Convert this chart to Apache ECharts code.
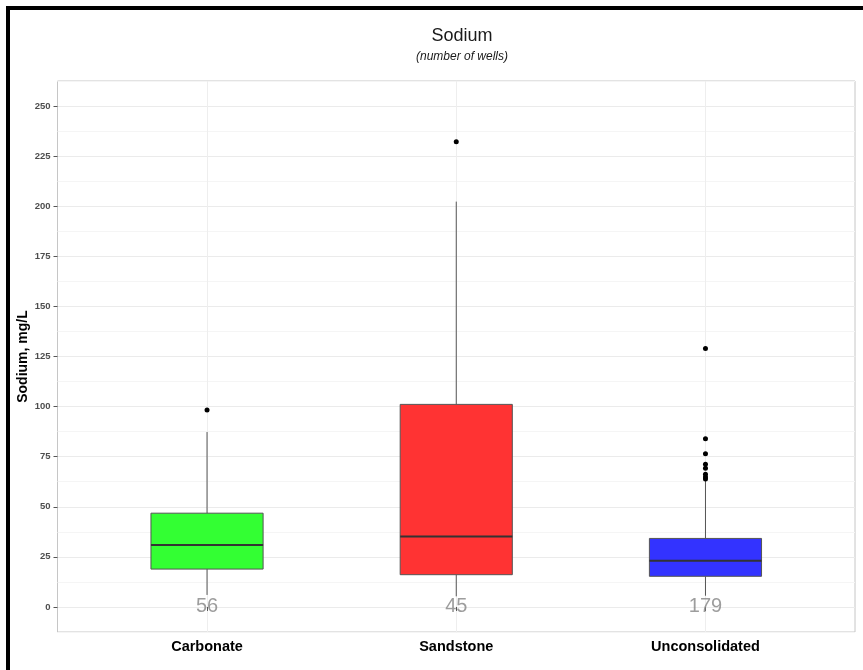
<!DOCTYPE html>
<html>
<head>
<meta charset="utf-8">
<title>Sodium</title>
<script src="https://cdn.jsdelivr.net/npm/echarts@6/dist/echarts.min.js"></script>
<style>
  html, body { margin: 0; padding: 0; background: #ffffff; }
  #chart { width: 863px; height: 670px; }
</style>
</head>
<body>
<div id="chart"></div>
<script>
// Aquifer groups and number of sampled wells in each
const categories = ['Carbonate', 'Sandstone', 'Unconsolidated'];
const wellCounts = [56, 45, 179];

// Box statistics, sodium in mg/L
const whiskerLow  = [6.0, 5.3, 5.6];
const quartile1   = [18.9, 16.1, 15.3];
const medians     = [30.9, 35.2, 23.1];
const quartile3   = [46.8, 101.1, 34.2];
const whiskerHigh = [87.3, 202.3, 62.9];

// Values beyond the whiskers
const outliersCarbonate = [98.3];
const outliersSandstone = [232.2];
const outliersUnconsolidated = [129.0, 84.0, 76.5, 71.2, 69.2, 66.2, 64.8, 63.8];

// Value-axis tick labels
const yTickValues = [0, 25, 50, 75, 100, 125, 150, 175, 200, 225, 250];

const boxFills = ['#33ff33', '#ff3333', '#3333ff'];
const BOX_WIDTH = 0.45;

const positions = categories.map((c, i) => i + 1);
const boxData = positions.map((x, i) => [x, whiskerLow[i], quartile1[i], medians[i], quartile3[i], whiskerHigh[i]]);
const outlierGroups = [outliersCarbonate, outliersSandstone, outliersUnconsolidated];
const outlierData = [];
outlierGroups.forEach((vals, i) => vals.forEach(v => outlierData.push([positions[i], v])));
const countData = positions.map((x, i) => [x, 0, wellCounts[i]]);

function renderBox(params, api) {
  const x = api.value(0);
  const lo = api.coord([x, api.value(1)]);
  const q1 = api.coord([x, api.value(2)]);
  const md = api.coord([x, api.value(3)]);
  const q3 = api.coord([x, api.value(4)]);
  const hi = api.coord([x, api.value(5)]);
  const half = api.size([BOX_WIDTH, 0])[0] / 2;
  const edge = '#555555';
  return {
    type: 'group',
    children: [
      { type: 'line', shape: { x1: lo[0], y1: lo[1], x2: q1[0], y2: q1[1] }, style: { stroke: edge, lineWidth: 1 } },
      { type: 'line', shape: { x1: q3[0], y1: q3[1], x2: hi[0], y2: hi[1] }, style: { stroke: edge, lineWidth: 1 } },
      { type: 'rect', shape: { x: q3[0] - half, y: q3[1], width: half * 2, height: q1[1] - q3[1] },
        style: { fill: boxFills[params.dataIndex], stroke: edge, lineWidth: 1 } },
      { type: 'line', shape: { x1: md[0] - half, y1: md[1], x2: md[0] + half, y2: md[1] },
        style: { stroke: '#333333', lineWidth: 2 } }
    ]
  };
}

const chart = echarts.init(document.getElementById('chart'), null, { renderer: 'canvas' });

const Y_MIN = -12.5, Y_MAX = 262.5;

chart.setOption({
  animation: false,
  backgroundColor: '#ffffff',
  title: {
    text: 'Sodium',
    subtext: '(number of wells)',
    left: 457,
    top: 22,
    textAlign: 'center',
    itemGap: 6,
    textStyle: { fontFamily: 'Liberation Sans', fontSize: 18, fontWeight: 'normal', color: '#1a1a1a' },
    subtextStyle: { fontFamily: 'Liberation Sans', fontSize: 12, fontStyle: 'italic', color: '#1a1a1a' }
  },
  graphic: [
    { type: 'rect', left: 6, top: 6, shape: { width: 857, height: 4 }, style: { fill: '#000000' }, z: 100 },
    { type: 'rect', left: 6, top: 6, shape: { width: 4, height: 664 }, style: { fill: '#000000' }, z: 100 }
  ],
  grid: {
    left: 57.5, right: 8, top: 81, bottom: 38,
    show: true, borderColor: '#c6c6c6', borderWidth: 1, backgroundColor: 'transparent'
  },
  xAxis: {
    type: 'value',
    min: 0.4, max: 3.6,
    axisLine: { show: false },
    axisTick: { show: true, length: 4, customValues: positions, lineStyle: { color: '#555555' } },
    axisLabel: {
      customValues: positions,
      margin: 7,
      fontFamily: 'Liberation Sans', fontSize: 14.5, fontWeight: 'bold', color: '#000000',
      formatter: v => categories[Math.round(v) - 1] || ''
    },
    splitLine: { show: true, lineStyle: { color: '#eeeeee', width: 1 } }
  },
  yAxis: [
    {
      type: 'value',
      min: Y_MIN, max: Y_MAX, interval: 12.5,
      axisLine: { show: false },
      axisTick: { show: false },
      axisLabel: { show: false },
      splitLine: { show: true, lineStyle: { color: ['#f5f5f5', '#ebebeb'], width: 1 } }
    },
    {
      type: 'value',
      position: 'left',
      min: Y_MIN, max: Y_MAX, interval: 12.5,
      name: 'Sodium, mg/L',
      nameLocation: 'middle',
      nameGap: 27,
      nameMoveOverlap: false,
      nameTextStyle: { fontFamily: 'Liberation Sans', fontSize: 14, fontWeight: 'bold', color: '#000000' },
      axisLine: { show: false },
      axisTick: { show: true, length: 4, customValues: yTickValues, lineStyle: { color: '#555555' } },
      axisLabel: {
        customValues: yTickValues,
        margin: 7,
        fontFamily: 'Liberation Sans', fontSize: 9.5, fontWeight: 'bold', color: '#4d4d4d',
        formatter: v => (Math.abs(v % 25) < 1e-6 && v >= 0 ? String(v) : '')
      },
      splitLine: { show: false }
    }
  ],
  series: [
    {
      type: 'custom',
      name: 'boxes',
      xAxisIndex: 0, yAxisIndex: 0,
      renderItem: renderBox,
      encode: { x: 0, y: [1, 2, 3, 4, 5] },
      data: boxData,
      z: 2
    },
    {
      type: 'scatter',
      name: 'outliers',
      xAxisIndex: 0, yAxisIndex: 0,
      symbol: 'circle',
      symbolSize: 5,
      itemStyle: { color: '#000000', opacity: 1 },
      data: outlierData,
      z: 3
    },
    {
      type: 'scatter',
      name: 'counts',
      xAxisIndex: 0, yAxisIndex: 0,
      symbolSize: 1,
      itemStyle: { color: 'rgba(0,0,0,0)' },
      label: {
        show: true, position: 'inside',
        formatter: p => String(p.value[2]),
        fontFamily: 'Liberation Sans', fontSize: 20, color: '#858585'
      },
      data: countData,
      z: 4
    }
  ]
});
</script>
</body>
</html>
